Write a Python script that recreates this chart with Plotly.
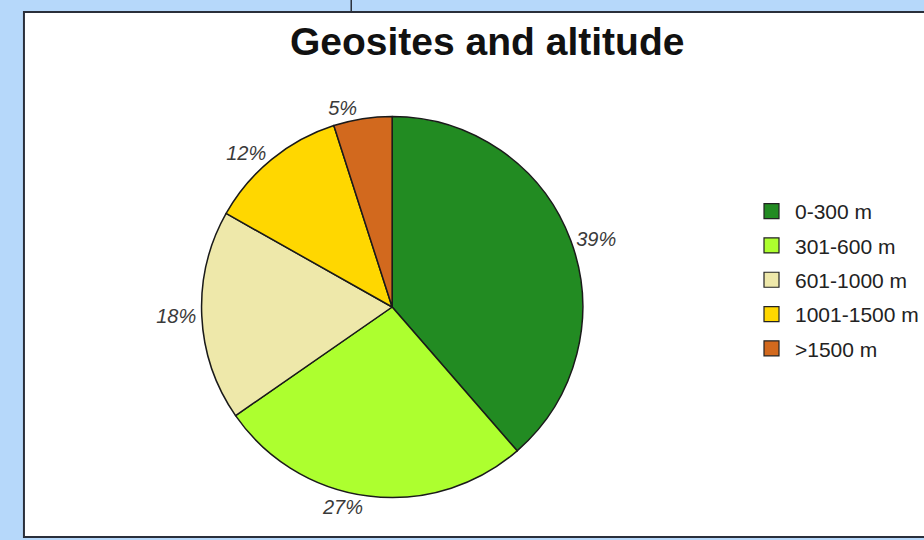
import plotly.graph_objects as go

# Data
categories = ["0-300 m", "301-600 m", "601-1000 m", "1001-1500 m", ">1500 m"]
values = [39, 27, 18, 12, 5]
colors = ["#228B22", "#ADFF2F", "#EEE8AA", "#FFD700", "#D2691E"]
title_text = "Geosites and altitude"

W, H = 924, 540
cx, cy, r = 393, 307, 191

fig = go.Figure()
fig.add_trace(go.Pie(
    labels=categories, values=values, sort=False, direction="clockwise",
    rotation=0,
    marker=dict(colors=colors, line=dict(color="#1a1a1a", width=1.5)),
    texttemplate="%{percent:.0%}", textposition="outside",
    textfont=dict(family="Liberation Sans, Arial", size=20, color="#3a3a3a", style="italic"),
    showlegend=False, hoverinfo="label+percent",
    domain=dict(x=[(cx - r) / W, (cx + r) / W], y=[(H - cy - r) / H, (H - cy + r) / H]),
))

for c, col in zip(categories, colors):
    fig.add_trace(go.Scatter(
        x=[None], y=[None], mode="markers", name=c, legendgroup=c,
        marker=dict(symbol="square", size=15, color=col, line=dict(color="#222", width=1.2)),
    ))

fig.update_layout(
    width=W, height=H, margin=dict(l=0, r=0, t=0, b=0),
    paper_bgcolor="#b6d8fa", plot_bgcolor="rgba(0,0,0,0)",
    xaxis=dict(visible=False), yaxis=dict(visible=False),
    showlegend=True,
    legend=dict(x=750 / W, xanchor="left", y=1 - 191 / H, yanchor="top",
                font=dict(family="Liberation Sans, Arial", size=21, color="#222"),
                tracegroupgap=4, itemwidth=37, bgcolor="rgba(0,0,0,0)", itemclick=False),
    shapes=[
        dict(type="rect", xref="paper", yref="paper", x0=24 / W, x1=1.05, y0=1 - 537 / H, y1=1 - 12 / H,
             fillcolor="white", line=dict(color="#2a2f3a", width=2), layer="below"),
        dict(type="line", xref="paper", yref="paper", x0=352 / W, x1=352 / W, y0=1 - 12 / H, y1=1,
             line=dict(color="#2a2f3a", width=1.5)),
    ],
    annotations=[dict(text="<b>" + title_text + "</b>", x=488 / W, y=1 - 42 / H, xref="paper", yref="paper",
                      showarrow=False, font=dict(family="Liberation Sans, Arial", size=39, color="#111"),
                      xanchor="center", yanchor="middle")],
)

fig.write_html("out.html")
